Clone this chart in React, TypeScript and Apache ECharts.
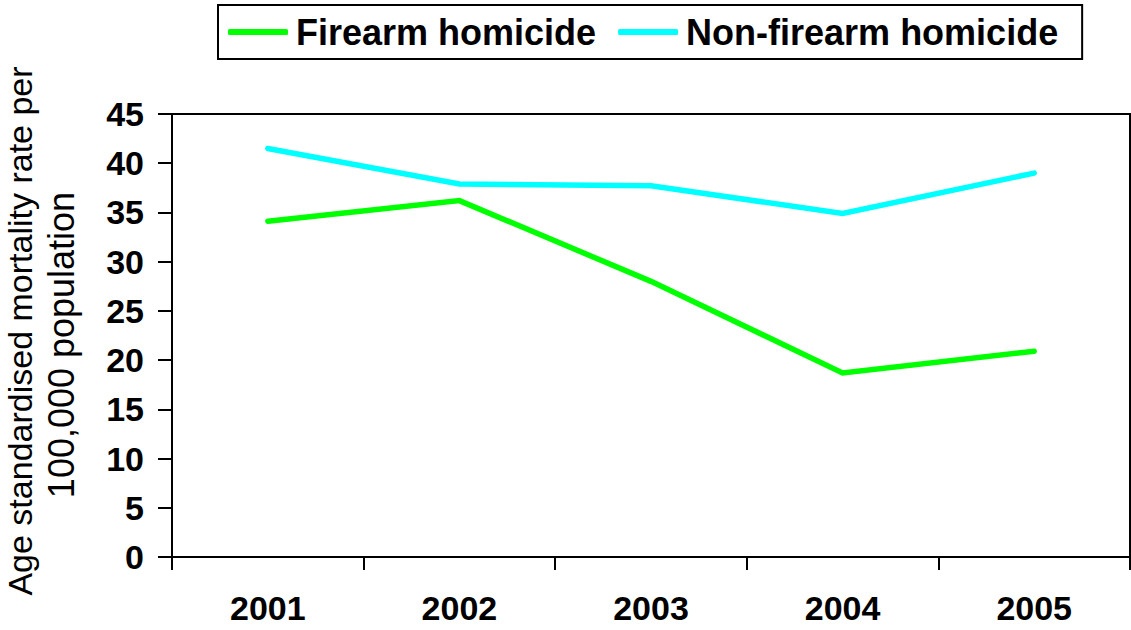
import React, { useEffect, useRef } from "react";
import * as echarts from "echarts";

const years = ["2001", "2002", "2003", "2004", "2005"];
const firearm = [34.1, 36.2, 28.0, 18.7, 20.9];
const nonFirearm = [41.5, 37.9, 37.7, 34.9, 39.0];
const seriesNames = ["Firearm homicide", "Non-firearm homicide"];
const titleLines = ["Age standardised mortality rate per", "100,000 population"];

export default function App() {
  const ref = useRef<HTMLDivElement>(null);
  useEffect(() => {
    document.body.style.margin = "0";
    const chart = echarts.init(ref.current!, null, { renderer: "svg" });
    const font = "Arial, 'Liberation Sans', sans-serif";
    chart.setOption({
      animation: false,
      backgroundColor: "#fff",
      grid: {
        left: 172,
        right: 1,
        top: 114,
        bottom: 73,
        show: true,
        borderColor: "#000",
        borderWidth: 2,
        backgroundColor: "transparent",
      },
      legend: {
        left: 218,
        top: 5,
        data: seriesNames,
        icon: "roundRect",
        itemWidth: 60,
        itemHeight: 6,
        itemGap: 22,
        borderColor: "#000",
        borderWidth: 2,
        padding: [9, 24, 9, 10],
        textStyle: { fontFamily: font, fontWeight: "bold", fontSize: 36, color: "#000", padding: [0, 0, 0, 3] },
      },
      xAxis: {
        type: "category",
        data: years,
        boundaryGap: true,
        axisLine: { lineStyle: { color: "#000", width: 2 } },
        axisTick: { show: true, length: 13, lineStyle: { color: "#000", width: 2 } },
        axisLabel: { margin: 34, fontFamily: font, fontWeight: "bold", fontSize: 34, color: "#000" },
      },
      yAxis: {
        type: "value",
        min: 0,
        max: 45,
        interval: 5,
        splitLine: { show: false },
        axisLine: { show: true, lineStyle: { color: "#000", width: 2 } },
        axisTick: { show: true, length: 14, lineStyle: { color: "#000", width: 2 } },
        axisLabel: { margin: 28, fontFamily: font, fontWeight: "bold", fontSize: 34, color: "#000" },
      },
      graphic: [
        {
          type: "text",
          x: 20,
          y: 331,
          rotation: Math.PI / 2,
          style: {
            text: titleLines[0],
            font: `34px ${font}`,
            fill: "#000",
            textAlign: "center",
            textVerticalAlign: "middle",
          },
        },
        {
          type: "text",
          x: 61,
          y: 345,
          rotation: Math.PI / 2,
          style: {
            text: titleLines[1],
            font: `36px ${font}`,
            fill: "#000",
            textAlign: "center",
            textVerticalAlign: "middle",
          },
        },
      ],
      series: [
        {
          name: seriesNames[0],
          type: "line",
          data: firearm,
          symbol: "none",
          color: "#00FF00",
          lineStyle: { color: "#00FF00", width: 5.5, cap: "round", join: "miter" },
        },
        {
          name: seriesNames[1],
          type: "line",
          data: nonFirearm,
          symbol: "none",
          color: "#00FFFF",
          lineStyle: { color: "#00FFFF", width: 5.5, cap: "round", join: "miter" },
        },
      ],
    });
    return () => chart.dispose();
  }, []);
  return <div ref={ref} style={{ width: 1131, height: 630, position: "absolute", left: 0, top: 0 }} />;
}
